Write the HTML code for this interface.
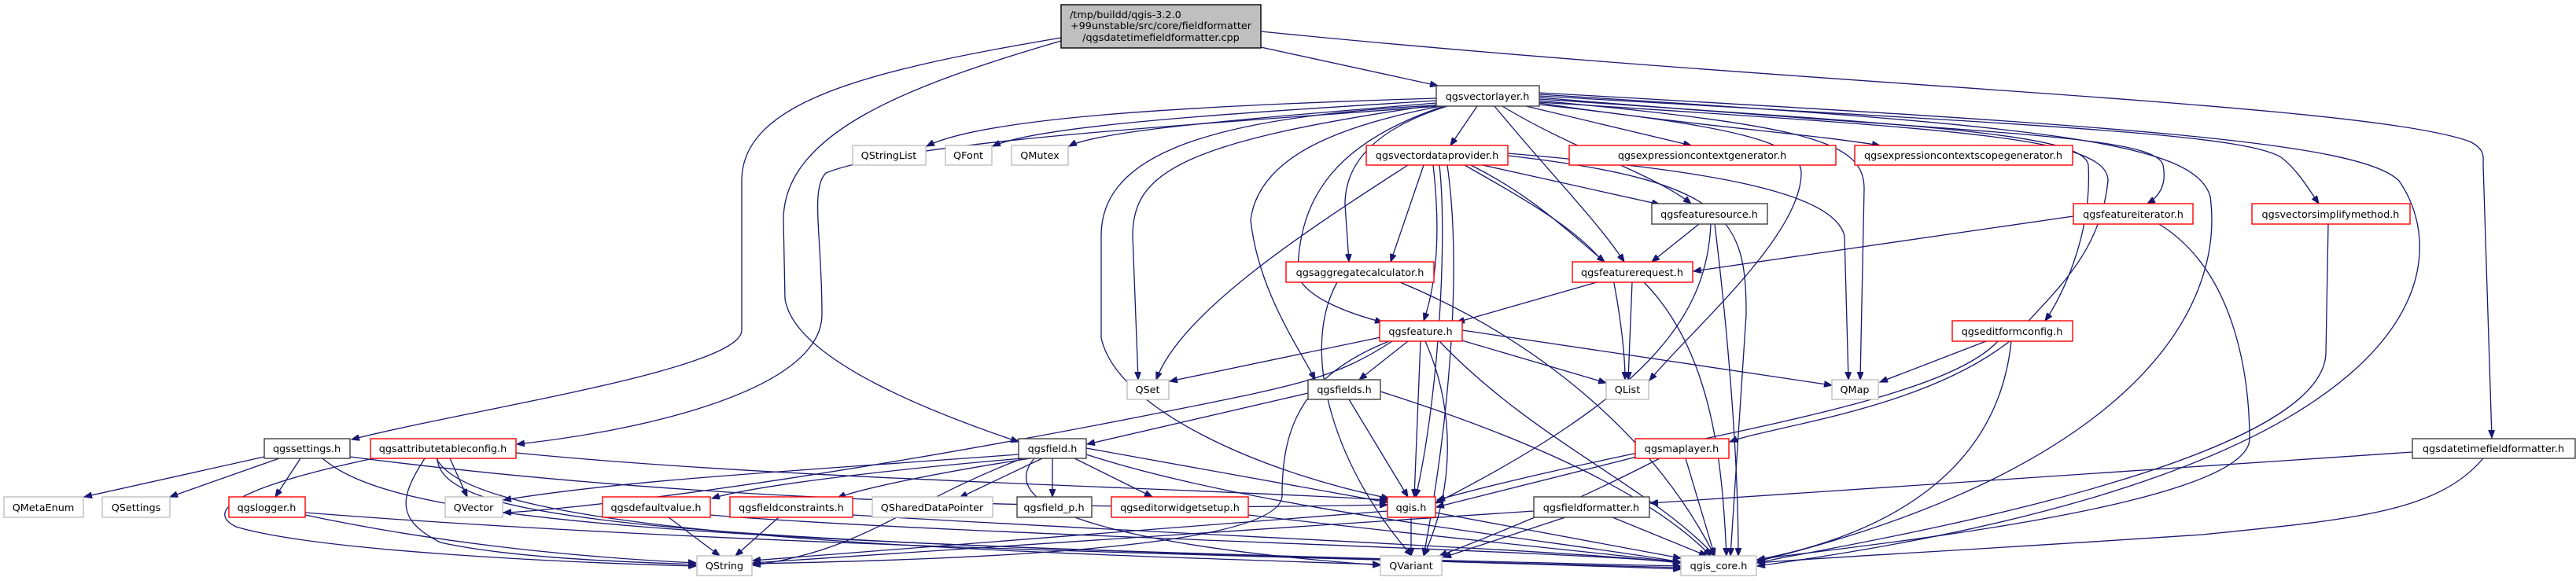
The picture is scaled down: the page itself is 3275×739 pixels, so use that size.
<!DOCTYPE html>
<html><head><meta charset="utf-8"><style>
html,body{margin:0;padding:0;background:#fff;}
svg{display:block;}
text{font-family:"DejaVu Sans","Liberation Sans",sans-serif;font-size:12.8px;fill:#000;}
.n{fill:#fff;stroke-width:1.4;}
.r{stroke:#f00;}
.g{stroke:#bfbfbf;}
.b{stroke:#404040;}
path.e{fill:none;stroke:#191970;stroke-width:1.3;marker-end:url(#a);}
</style></head><body>
<svg width="3275" height="739" viewBox="0 0 3275 739" xmlns="http://www.w3.org/2000/svg">
<defs><marker id="a" markerUnits="userSpaceOnUse" markerWidth="11" markerHeight="8" refX="10" refY="4" orient="auto"><path d="M0,0 L10,4 L0,8 z" fill="#191970" stroke="#191970"/></marker></defs>

<!-- edges -->
<path class="e" d="M1603,60 L1828,109"/>
<path class="e" d="M1349,48 C1100,90 943,130 943,230 L943,420 C943,470 600,520 447,559"/>
<path class="e" d="M1349,52 C1150,110 996,170 996,280 L998,380 C1010,460 1200,530 1295,562"/>
<path class="e" d="M1603,40 C2300,110 3000,130 3140,180 C3160,190 3157,200 3157,210 L3168,557"/>

<path class="e" d="M1826,125 C1500,135 1250,150 1178,186"/>
<path class="e" d="M1826,128 C1550,145 1320,160 1262,186"/>
<path class="e" d="M1826,131 C1600,150 1400,165 1359,186"/>
<path class="e" d="M1830,135 C1500,160 1150,180 1050,220 C1030,240 1045,300 1045,400 C1045,500 800,550 657,565"/>
<path class="e" d="M1878,135 L1844,185"/>
<path class="e" d="M1940,135 L2150,185"/>
<path class="e" d="M1957,131 C2150,160 2300,170 2390,185"/>
<path class="e" d="M1910,135 C2000,190 2100,220 2150,259"/>
<path class="e" d="M1900,135 C1970,220 2030,280 2065,333"/>
<path class="e" d="M1840,135 C1760,160 1710,200 1710,260 L1715,333"/>
<path class="e" d="M1836,135 C1700,180 1650,250 1650,350 C1660,380 1720,400 1758,410"/>
<path class="e" d="M1828,133 C1500,180 1440,220 1440,300 L1447,483"/>
<path class="e" d="M1832,135 C1700,160 1600,200 1590,280 C1600,370 1650,440 1672,483"/>
<path class="e" d="M1826,134 C1500,150 1400,210 1400,300 L1400,430 C1420,520 1600,600 1766,634"/>
<path class="e" d="M1957,133 C2200,160 2290,180 2290,220 C2290,300 2150,420 2097,484"/>
<path class="e" d="M1957,128 C2300,160 2370,180 2370,240 L2365,483"/>
<path class="e" d="M1957,124 C2500,170 2740,170 2750,210 C2755,235 2745,250 2730,259"/>
<path class="e" d="M1957,122 C2600,160 2850,170 2900,200 C2920,215 2935,240 2948,259"/>
<path class="e" d="M1957,126 C2450,160 2650,170 2655,210 C2660,300 2620,380 2600,408"/>
<path class="e" d="M1957,130 C2500,165 2680,175 2680,230 C2670,330 2600,380 2560,430 C2450,520 2260,540 2199,562"/>
<path class="e" d="M1957,120 C2600,160 2790,180 2810,250 C2830,400 2700,600 2234,714"/>
<path class="e" d="M1957,118 C2700,160 3000,180 3050,230 C3120,330 3110,600 2234,720"/>

<path class="e" d="M1885,210 L2110,260"/>
<path class="e" d="M1870,210 C1950,250 2000,300 2040,333"/>
<path class="e" d="M1810,210 L1768,333"/>
<path class="e" d="M1822,210 C1830,280 1830,350 1810,408"/>
<path class="e" d="M1790,210 C1650,300 1500,400 1470,483"/>
<path class="e" d="M1862,210 C1950,260 2020,300 2050,350 C2060,400 2066,450 2066,483"/>
<path class="e" d="M1917,195 C2150,215 2330,240 2345,300 L2350,483"/>
<path class="e" d="M1830,210 C1840,300 1830,500 1800,632"/>
<path class="e" d="M1917,198 C2200,230 2220,280 2220,400 L2200,707"/>
<path class="e" d="M1840,210 C1860,350 1840,550 1810,707"/>

<path class="e" d="M2160,285 L2100,333"/>
<path class="e" d="M2175,285 C2170,400 2100,500 1825,640"/>
<path class="e" d="M2180,285 C2200,450 2210,600 2210,707"/>
<path class="e" d="M2030,359 L1852,410"/>
<path class="e" d="M2075,359 L2070,483"/>
<path class="e" d="M2090,359 C2180,450 2190,600 2195,707"/>
<path class="e" d="M2636,275 L2153,345"/>
<path class="e" d="M2745,285 C2850,350 2860,500 2860,560 C2850,650 2300,700 2234,712"/>
<path class="e" d="M2960,285 L2957,450 C2950,600 2300,700 2234,716"/>
<path class="e" d="M1700,359 C1650,450 1700,600 1795,707"/>
<path class="e" d="M1780,359 C1950,430 2100,550 2180,707"/>

<path class="e" d="M1760,428 L1487,485"/>
<path class="e" d="M1790,434 L1728,483"/>
<path class="e" d="M1855,432 L2042,487"/>
<path class="e" d="M1859,420 L2329,490"/>
<path class="e" d="M1806,434 L1798,632"/>
<path class="e" d="M1812,434 C1850,520 1850,620 1810,707"/>
<path class="e" d="M1830,434 C1950,560 2100,620 2180,707"/>
<path class="e" d="M1766,434 C1650,480 1630,550 1630,630 C1630,700 1200,712 957,717"/>
<path class="e" d="M1770,434 C1700,480 1650,490 1500,520 C1000,620 700,650 640,652"/>

<path class="e" d="M1663,500 L1382,565"/>
<path class="e" d="M1715,508 L1790,632"/>
<path class="e" d="M1755,498 C1950,560 2100,630 2175,707"/>
<path class="e" d="M2525,434 L2390,486"/>
<path class="e" d="M2540,434 C2460,520 2100,560 1827,636"/>
<path class="e" d="M2557,434 C2540,600 2400,680 2234,712"/>

<path class="e" d="M1295,578 C1000,600 800,610 640,636"/>
<path class="e" d="M1300,583 C1100,600 950,620 905,634"/>
<path class="e" d="M1310,583 C1200,600 1100,620 1065,633"/>
<path class="e" d="M1325,583 L1220,633"/>
<path class="e" d="M1338,583 L1338,632"/>
<path class="e" d="M1366,583 L1465,632"/>
<path class="e" d="M1381,570 L1764,639"/>
<path class="e" d="M1300,583 C1150,640 1100,700 957,719"/>
<path class="e" d="M1315,583 C1250,660 1500,700 1755,719"/>
<path class="e" d="M1381,578 C1600,650 2000,690 2137,715"/>

<path class="e" d="M336,581 L107,632"/>
<path class="e" d="M355,583 L216,632"/>
<path class="e" d="M382,583 L350,632"/>
<path class="e" d="M445,581 C900,640 1400,650 1764,642"/>
<path class="e" d="M410,583 C500,660 800,690 2137,720"/>

<path class="e" d="M572,583 L594,632"/>
<path class="e" d="M540,583 C510,630 500,660 560,690 C650,710 800,715 885,718"/>
<path class="e" d="M475,583 C300,620 260,650 300,670 C400,700 700,715 885,720"/>
<path class="e" d="M656,576 C1000,610 1500,620 1764,636"/>
<path class="e" d="M556,583 C560,670 900,690 2137,722"/>
<path class="e" d="M555,583 C600,680 1200,700 1755,718"/>

<path class="e" d="M388,655 C600,700 800,712 885,716"/>
<path class="e" d="M388,652 C1000,700 1800,710 2137,724"/>
<path class="e" d="M850,658 L915,707"/>
<path class="e" d="M903,655 C1200,680 2000,700 2137,716"/>
<path class="e" d="M990,658 L935,707"/>
<path class="e" d="M1084,655 C1500,680 2000,700 2137,716"/>
<path class="e" d="M1587,655 C1800,680 2000,700 2137,715"/>
<path class="e" d="M1764,650 C1400,680 1100,700 957,713"/>
<path class="e" d="M1794,658 L1794,707"/>
<path class="e" d="M1825,652 L2137,710"/>
<path class="e" d="M2085,580 L1826,645"/>
<path class="e" d="M2110,583 C2000,640 1900,680 1830,707"/>
<path class="e" d="M2143,583 L2180,707"/>
<path class="e" d="M1990,658 L1835,709"/>
<path class="e" d="M2050,658 L2170,707"/>
<path class="e" d="M1950,650 C1500,680 1200,700 957,716"/>
<path class="e" d="M3067,575 L2098,640"/>
<path class="e" d="M3157,583 C3100,650 3000,660 2800,680 C2500,700 2300,710 2234,716"/>

<!-- nodes -->
<rect x="1349" y="6" width="254" height="55" fill="#bfbfbf" stroke="#000" stroke-width="1.4"/>
<text x="1360" y="23">/tmp/buildd/qgis-3.2.0</text>
<text x="1476" y="37" text-anchor="middle">+99unstable/src/core/fieldformatter</text>
<text x="1476" y="52" text-anchor="middle">/qgsdatetimefieldformatter.cpp</text>

<g text-anchor="middle">
<rect class="n b" x="1826" y="109" width="131" height="26"/><text x="1891" y="127">qgsvectorlayer.h</text>
<rect class="n g" x="1084" y="185" width="93" height="25"/><text x="1130" y="202">QStringList</text>
<rect class="n g" x="1202" y="185" width="59" height="25"/><text x="1231" y="202">QFont</text>
<rect class="n g" x="1286" y="185" width="72" height="25"/><text x="1322" y="202">QMutex</text>
<rect class="n r" x="1737" y="185" width="180" height="25"/><text x="1827" y="202">qgsvectordataprovider.h</text>
<rect class="n r" x="1995" y="185" width="339" height="25"/><text x="2164" y="202">qgsexpressioncontextgenerator.h</text>
<rect class="n r" x="2358" y="185" width="277" height="25"/><text x="2496" y="202">qgsexpressioncontextscopegenerator.h</text>
<rect class="n b" x="2100" y="259" width="147" height="26"/><text x="2173" y="277">qgsfeaturesource.h</text>
<rect class="n r" x="2636" y="259" width="152" height="26"/><text x="2712" y="277">qgsfeatureiterator.h</text>
<rect class="n r" x="2863" y="259" width="201" height="26"/><text x="2963" y="277">qgsvectorsimplifymethod.h</text>
<rect class="n r" x="1635" y="333" width="188" height="26"/><text x="1729" y="351">qgsaggregatecalculator.h</text>
<rect class="n r" x="1999" y="333" width="153" height="26"/><text x="2075" y="351">qgsfeaturerequest.h</text>
<rect class="n r" x="1754" y="408" width="105" height="26"/><text x="1806" y="426">qgsfeature.h</text>
<rect class="n r" x="2482" y="408" width="153" height="26"/><text x="2558" y="426">qgseditformconfig.h</text>
<rect class="n g" x="1433" y="483" width="53" height="25"/><text x="1459" y="500">QSet</text>
<rect class="n b" x="1663" y="483" width="92" height="25"/><text x="1709" y="500">qgsfields.h</text>
<rect class="n g" x="2042" y="483" width="54" height="25"/><text x="2069" y="500">QList</text>
<rect class="n g" x="2329" y="483" width="59" height="25"/><text x="2358" y="500">QMap</text>
<rect class="n b" x="336" y="558" width="109" height="25"/><text x="390" y="575">qgssettings.h</text>
<rect class="n r" x="471" y="558" width="185" height="25"/><text x="563" y="575">qgsattributetableconfig.h</text>
<rect class="n b" x="1295" y="558" width="86" height="25"/><text x="1338" y="575">qgsfield.h</text>
<rect class="n r" x="2079" y="558" width="119" height="25"/><text x="2138" y="575">qgsmaplayer.h</text>
<rect class="n b" x="3067" y="558" width="207" height="25"/><text x="3170" y="575">qgsdatetimefieldformatter.h</text>
<rect class="n g" x="5" y="632" width="101" height="26"/><text x="55" y="650">QMetaEnum</text>
<rect class="n g" x="130" y="632" width="86" height="26"/><text x="173" y="650">QSettings</text>
<rect class="n r" x="291" y="632" width="97" height="26"/><text x="339" y="650">qgslogger.h</text>
<rect class="n g" x="566" y="632" width="73" height="26"/><text x="602" y="650">QVector</text>
<rect class="n r" x="766" y="632" width="137" height="26"/><text x="834" y="650">qgsdefaultvalue.h</text>
<rect class="n r" x="928" y="632" width="156" height="26"/><text x="1006" y="650">qgsfieldconstraints.h</text>
<rect class="n g" x="1109" y="632" width="153" height="26"/><text x="1185" y="650">QSharedDataPointer</text>
<rect class="n b" x="1293" y="632" width="95" height="26"/><text x="1340" y="650">qgsfield_p.h</text>
<rect class="n r" x="1413" y="632" width="174" height="26"/><text x="1500" y="650">qgseditorwidgetsetup.h</text>
<rect class="n r" x="1764" y="632" width="61" height="26"/><text x="1794" y="650">qgis.h</text>
<rect class="n b" x="1950" y="632" width="147" height="26"/><text x="2023" y="650">qgsfieldformatter.h</text>
<rect class="n g" x="886" y="707" width="70" height="25"/><text x="921" y="724">QString</text>
<rect class="n g" x="1755" y="707" width="78" height="25"/><text x="1794" y="724">QVariant</text>
<rect class="n g" x="2137" y="707" width="96" height="25"/><text x="2185" y="724">qgis_core.h</text>
</g>
</svg>
</body></html>
